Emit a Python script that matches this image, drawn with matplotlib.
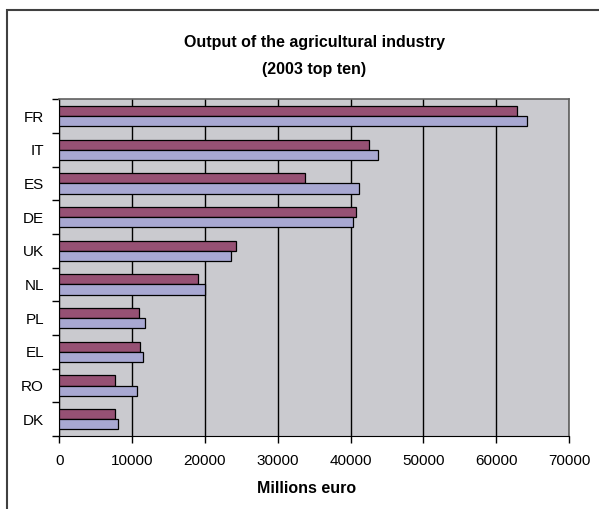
import numpy as np
import matplotlib.pyplot as plt
from matplotlib.patches import Rectangle

plt.rcParams['font.family'] = ['Liberation Sans', 'DejaVu Sans']

countries = ['FR', 'IT', 'ES', 'DE', 'UK', 'NL', 'PL', 'EL', 'RO', 'DK']
serie_a = [62900, 42500, 33700, 40800, 24200, 19000, 10900, 11100, 7700, 7700]
serie_b = [64200, 43800, 41200, 40400, 23600, 20000, 11800, 11500, 10700, 8100]
xticks = [0, 10000, 20000, 30000, 40000, 50000, 60000, 70000]

fig = plt.figure(figsize=(5.99, 5.09), dpi=100)
ax = fig.add_axes([0.099, 0.1434, 0.851, 0.6615])

# moldura do grafico (so esquerda e topo aparecem)
fig.patches.append(Rectangle((7 / 599, -0.05), 1.1, 1 - 10 / 509 + 0.05,
                             transform=fig.transFigure, fill=False,
                             edgecolor='#404040', linewidth=1.5))

y = np.arange(len(countries))
h = 0.3
ax.barh(y - h / 2, serie_a, height=h, color='#965174', edgecolor='black',
        linewidth=0.9, zorder=3)
ax.barh(y + h / 2, serie_b, height=h, color='#A8A8D2', edgecolor='black',
        linewidth=0.9, zorder=3)

ax.set_facecolor('#CACACF')
ax.set_xlim(0, 70000)
ax.set_ylim(len(countries) - 0.5, -0.5)
ax.set_xticks(xticks)
ax.set_xticklabels([str(v) for v in xticks], fontsize=11)
ax.tick_params(axis='x', length=5, width=1, pad=8, direction='out')
ax.grid(axis='x', color='black', linewidth=1, zorder=1)

ax.set_yticks(y)
ax.set_yticklabels(countries, fontsize=11)
ax.tick_params(axis='y', which='major', length=0, pad=11)
ax.set_yticks(np.arange(-0.5, len(countries), 1), minor=True)
ax.tick_params(axis='y', which='minor', length=5, width=1, direction='out')

for s in ['top', 'right']:
    ax.spines[s].set_color('#606060')
    ax.spines[s].set_linewidth(1.2)
ax.spines['left'].set_color('black')
ax.spines['bottom'].set_color('black')

ax.set_xlabel('Millions euro', fontsize=11.5, fontweight='bold', labelpad=8)
ax.xaxis.set_label_coords(0.485, -0.135)
ax.set_title('Output of the agricultural industry\n(2003 top ten)',
             fontsize=11.5, fontweight='bold', linespacing=2.0, pad=18)

plt.savefig('out.png', dpi=100)
plt.close()
